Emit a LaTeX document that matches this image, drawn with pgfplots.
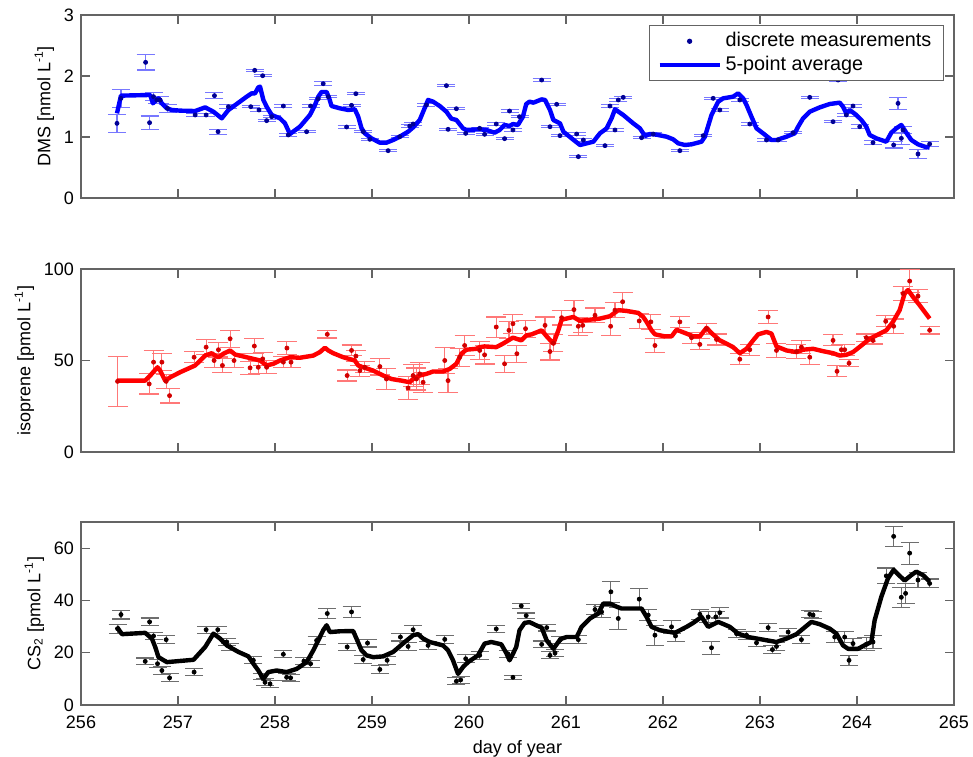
\documentclass[border=0pt]{standalone}
\usepackage{pgfplots}
\pgfplotsset{compat=1.18}
\usepackage{pgfplotstable}
\usepackage{fontspec}
\setmainfont{Liberation Sans}

\definecolor{axgray}{RGB}{100,100,100}
\definecolor{ebblue}{RGB}{120,120,255}
\definecolor{ebred}{RGB}{255,120,120}
\definecolor{ebgray}{RGB}{110,110,110}
\definecolor{ptblue}{RGB}{0,0,150}
\definecolor{ptred}{RGB}{210,0,0}

\pgfplotstableread{
x y e
256.371 1.224 0.148
256.412 1.634 0.148
256.666 2.224 0.126
256.707 1.235 0.109
256.748 1.661 0.066
256.782 1.607 0.055
256.816 1.607 0.055
256.892 1.470 0.066
257.177 1.361 0.03
257.290 1.361 0.03
257.376 1.678 0.045
257.413 1.087 0.04
257.520 1.497 0.03
257.750 1.497 0.02
257.791 2.093 0.02
257.835 1.443 0.02
257.873 2.005 0.02
257.914 1.268 0.02
257.966 1.333 0.02
258.086 1.508 0.02
258.137 1.033 0.02
258.326 1.087 0.02
258.367 1.508 0.02
258.446 1.628 0.02
258.497 1.874 0.03
258.549 1.661 0.02
258.738 1.164 0.02
258.789 1.519 0.02
258.834 1.710 0.02
258.909 1.087 0.02
258.978 0.962 0.02
259.166 0.776 0.02
259.286 1.005 0.02
259.389 1.180 0.02
259.424 1.213 0.02
259.561 1.525 0.02
259.767 1.842 0.02
259.784 1.126 0.02
259.870 1.464 0.02
259.966 1.060 0.02
260.110 1.142 0.02
260.161 1.044 0.02
260.281 1.213 0.02
260.367 0.973 0.02
260.418 1.426 0.02
260.453 1.115 0.02
260.521 1.333 0.02
260.749 1.934 0.02
260.835 1.169 0.02
260.904 1.536 0.02
260.938 1.022 0.02
261.110 1.049 0.02
261.127 0.678 0.02
261.179 0.951 0.02
261.402 0.858 0.02
261.453 1.508 0.02
261.505 1.115 0.02
261.539 1.607 0.02
261.590 1.650 0.02
261.779 0.989 0.02
261.899 1.049 0.02
262.174 0.776 0.02
262.414 1.022 0.02
262.517 1.634 0.02
262.586 1.443 0.02
262.792 1.607 0.02
262.895 1.213 0.02
263.067 0.951 0.02
263.187 0.951 0.02
263.341 1.071 0.02
263.513 1.650 0.02
263.753 1.251 0.02
263.805 1.934 0.02
263.890 1.361 0.03
263.959 1.508 0.03
264.028 1.169 0.03
264.165 0.907 0.03
264.378 0.869 0.05
264.423 1.552 0.098
264.457 0.978 0.1
264.474 1.115 0.06
264.629 0.721 0.08
264.749 0.885 0.04
}\dmspts

\pgfplotstableread{
x y
256.371 1.388
256.412 1.678
256.714 1.689
256.741 1.552
256.775 1.607
256.799 1.634
256.834 1.552
256.885 1.470
256.937 1.443
257.022 1.432
257.177 1.426
257.280 1.486
257.365 1.415
257.451 1.306
257.520 1.443
257.605 1.541
257.708 1.661
257.760 1.716
257.794 1.716
257.828 1.814
257.846 1.825
257.880 1.607
257.914 1.497
257.966 1.361
258.051 1.306
258.103 1.224
258.154 1.049
258.257 1.169
258.360 1.361
258.412 1.525
258.446 1.661
258.480 1.738
258.532 1.738
258.559 1.634
258.583 1.508
258.669 1.470
258.755 1.443
258.823 1.454
258.858 1.333
258.892 1.142
258.926 1.060
258.995 0.978
259.081 0.907
259.149 0.907
259.218 0.951
259.286 1.005
259.372 1.087
259.424 1.158
259.492 1.279
259.578 1.607
259.630 1.579
259.698 1.508
259.767 1.415
259.818 1.301
259.870 1.279
259.938 1.142
259.973 1.115
260.110 1.126
260.178 1.115
260.264 1.071
260.316 1.115
260.367 1.197
260.418 1.180
260.453 1.213
260.504 1.197
260.556 1.333
260.590 1.541
260.624 1.579
260.664 1.563
260.749 1.617
260.784 1.607
260.835 1.443
260.870 1.279
260.938 1.224
260.973 1.087
261.058 0.978
261.144 0.869
261.213 0.896
261.282 0.923
261.350 1.060
261.419 1.142
261.470 1.306
261.505 1.454
261.590 1.361
261.693 1.224
261.762 1.142
261.814 1.016
261.865 1.049
261.934 1.038
262.037 1.005
262.105 0.962
262.157 0.896
262.226 0.869
262.294 0.880
262.397 0.923
262.432 1.005
262.500 1.361
262.569 1.579
262.620 1.634
262.723 1.661
262.775 1.716
262.826 1.634
262.861 1.525
262.912 1.333
262.964 1.142
263.032 1.060
263.118 0.951
263.170 0.951
263.273 1.005
263.358 1.060
263.393 1.169
263.444 1.306
263.513 1.415
263.616 1.486
263.719 1.541
263.822 1.563
263.856 1.497
263.890 1.388
263.925 1.443
263.993 1.361
264.045 1.279
264.096 1.169
264.131 1.033
264.199 0.978
264.302 0.923
264.354 1.071
264.405 1.142
264.457 1.197
264.508 1.071
264.560 0.951
264.629 0.880
264.697 0.842
264.749 0.825
}\dmsavg

\pgfplotstableread{
x y e
256.377 38.6 13.7
256.703 37.2 5.5
256.748 49.1 6.4
256.834 49.1 4.6
256.878 38.6 4.0
256.913 30.8 4.0
257.166 51.8 3.0
257.290 57.3 4.0
257.372 50.0 4.0
257.417 55.9 4.0
257.458 47.3 4.0
257.537 61.9 4.6
257.578 50.0 4.0
257.743 46.0 3.5
257.787 57.9 4.0
257.828 46.3 3.5
257.873 50.9 3.5
257.914 46.3 3.5
258.086 49.1 3.0
258.123 56.8 3.5
258.165 49.1 3.0
258.539 64.3 2.0
258.744 41.8 3.0
258.789 55.5 3.0
258.834 52.4 3.0
258.875 44.5 3.0
258.926 46.3 3.0
259.081 46.7 4.6
259.149 39.9 5.5
259.372 35.0 6.4
259.424 41.8 6.0
259.458 39.9 6.0
259.492 42.7 6.0
259.527 38.1 5.5
259.750 50.0 7.3
259.784 39.0 6.4
259.904 51.8 5.0
259.955 58.2 5.5
260.110 55.5 5.0
260.161 53.1 5.0
260.281 68.3 5.5
260.367 48.2 4.6
260.412 66.5 4.6
260.453 70.1 5.1
260.494 53.7 4.6
260.583 67.4 4.6
260.784 69.2 4.6
260.835 54.9 4.6
260.870 59.5 4.6
260.955 73.4 4.0
261.082 77.8 5.0
261.127 68.7 5.0
261.172 69.2 4.0
261.299 74.7 4.0
261.460 68.7 5.0
261.505 77.5 4.0
261.584 82.1 5.0
261.755 71.6 4.0
261.875 71.1 4.0
261.917 58.2 4.0
262.174 71.1 3.0
262.294 62.5 3.0
262.380 58.8 3.0
262.449 67.4 3.0
262.552 61.5 3.0
262.792 50.7 3.0
262.895 55.9 3.0
263.084 73.8 3.7
263.170 55.5 3.7
263.376 54.9 3.7
263.427 57.3 3.7
263.513 51.8 4.0
263.753 61.0 3.0
263.794 44.1 3.0
263.839 55.9 3.0
263.873 55.9 3.0
263.918 48.5 2.0
264.096 62.5 2.0
264.165 61.0 2.0
264.296 71.4 3.0
264.378 68.7 4.0
264.474 86.6 4.0
264.543 93.4 6.4
264.629 85.2 3.5
264.749 66.5 2.0
}\isopts

\pgfplotstableread{
x y
256.370 39.0
256.662 39.0
256.714 41.8
256.765 44.9
256.789 46.3
256.816 44.5
256.868 39.0
256.919 40.8
257.022 43.6
257.177 47.3
257.280 52.7
257.348 54.0
257.383 52.7
257.417 51.8
257.468 53.7
257.537 55.5
257.588 53.3
257.674 52.2
257.777 50.9
257.846 50.0
257.914 47.3
257.983 48.2
258.051 50.0
258.154 51.8
258.257 51.5
258.395 52.7
258.463 54.6
258.515 57.0
258.549 55.5
258.600 54.0
258.703 51.8
258.823 50.0
258.858 47.3
258.909 46.3
259.012 44.5
259.115 41.8
259.201 39.9
259.304 39.0
259.389 38.1
259.424 39.9
259.492 41.8
259.561 42.7
259.630 44.0
259.732 44.0
259.801 45.4
259.870 48.2
259.921 53.7
259.973 55.9
260.075 56.4
260.110 57.3
260.161 57.7
260.281 57.3
260.350 59.2
260.453 62.5
260.539 61.0
260.590 63.7
260.646 64.3
260.749 66.5
260.801 63.2
260.870 59.2
260.921 66.5
260.955 72.3
261.076 73.8
261.144 71.6
261.247 72.3
261.350 72.9
261.453 74.2
261.539 77.5
261.625 77.1
261.745 76.0
261.796 73.8
261.831 71.1
261.882 66.5
261.917 64.3
262.020 63.2
262.088 63.2
262.140 66.8
262.243 64.7
262.311 63.2
262.380 63.2
262.449 67.9
262.500 65.0
262.586 61.0
262.655 59.2
262.723 57.3
262.792 54.0
262.861 56.4
262.929 61.0
262.981 64.3
263.067 65.6
263.118 64.7
263.170 57.7
263.273 55.5
263.376 54.6
263.444 55.9
263.547 56.4
263.650 55.1
263.753 54.0
263.822 52.7
263.890 53.1
263.959 54.6
264.045 58.2
264.131 61.9
264.199 63.7
264.302 66.5
264.371 71.1
264.440 77.5
264.491 86.6
264.526 88.5
264.577 84.8
264.646 80.2
264.749 72.9
}\isoavg

\pgfplotstableread{
x y e
256.377 29.2 1.7
256.412 34.6 1.7
256.662 16.7 1.3
256.707 31.8 1.5
256.748 26.4 1.5
256.789 15.8 1.5
256.834 13.2 1.5
256.878 25.0 1.5
256.913 10.4 1.5
257.166 12.6 1.3
257.290 28.8 1.3
257.410 28.8 1.3
257.503 24.1 1.3
257.537 22.2 1.3
257.777 17.1 1.3
257.863 10.9 1.3
257.897 8.7 1.3
257.949 8.1 1.3
258.086 19.4 1.3
258.120 10.6 1.3
258.161 10.4 1.3
258.298 16.8 1.3
258.367 15.8 1.3
258.429 24.7 1.5
258.539 35.0 2.0
258.744 22.2 1.5
258.789 35.6 2.0
258.909 17.4 1.5
258.954 23.7 1.5
259.081 13.6 1.5
259.156 17.1 1.5
259.293 26.0 1.5
259.372 22.4 1.5
259.424 28.8 1.5
259.578 22.8 1.5
259.750 25.1 1.5
259.870 9.1 1.3
259.914 9.6 1.3
259.966 17.7 1.5
260.110 19.0 1.5
260.281 29.1 1.3
260.401 19.6 1.3
260.453 10.6 0.8
260.539 37.9 1.0
260.590 34.2 1.0
260.749 23.2 1.3
260.801 29.6 1.3
260.835 19.0 1.3
260.887 19.9 1.3
260.938 25.0 1.3
261.127 25.0 1.5
261.299 36.5 2.0
261.367 35.6 2.0
261.463 43.3 4.0
261.539 33.1 4.2
261.755 40.5 4.0
261.848 34.4 2.0
261.917 26.7 3.8
262.088 29.9 2.5
262.129 26.4 2.0
262.380 34.7 2.0
262.466 33.7 2.0
262.500 21.9 2.5
262.545 33.7 2.0
262.586 35.3 2.0
262.758 27.3 1.5
262.861 26.7 1.5
262.964 23.8 1.5
263.084 29.6 1.5
263.128 21.2 1.5
263.170 22.4 1.5
263.290 27.9 1.5
263.427 25.0 1.5
263.513 34.7 1.3
263.547 34.4 1.3
263.770 26.0 2.0
263.873 26.0 2.0
263.918 17.1 2.0
263.959 23.5 2.0
264.096 23.2 2.5
264.165 24.1 2.5
264.302 49.4 3.0
264.378 64.5 3.8
264.457 41.2 3.8
264.501 42.7 3.8
264.543 58.1 4.2
264.629 47.8 3.0
264.749 46.5 1.7
}\cspts

\pgfplotstableread{
x y
256.370 29.9
256.422 27.1
256.662 27.6
256.731 25.4
256.765 22.2
256.799 18.3
256.885 16.4
257.160 17.3
257.280 22.2
257.365 27.3
257.434 25.4
257.503 22.8
257.623 20.3
257.726 18.6
257.777 15.8
257.828 13.2
257.880 10.0
257.931 12.6
258.017 13.2
258.120 12.6
258.223 13.8
258.326 16.4
258.395 20.9
258.446 24.7
258.497 28.6
258.532 30.5
258.566 27.9
258.669 28.2
258.806 28.3
258.840 25.4
258.892 20.9
258.943 19.0
259.012 18.3
259.115 18.6
259.218 20.3
259.338 24.1
259.424 26.7
259.475 27.1
259.527 25.4
259.595 24.1
259.732 22.8
259.784 20.9
259.835 17.1
259.887 11.9
259.938 14.5
259.990 16.4
260.093 19.0
260.161 23.5
260.230 24.1
260.333 23.2
260.384 19.9
260.418 17.1
260.453 19.6
260.487 22.2
260.521 28.6
260.573 31.4
260.624 31.7
260.715 30.1
260.749 29.6
260.801 24.7
260.870 21.5
260.921 24.1
260.955 25.4
261.007 26.0
261.110 26.0
261.161 29.9
261.247 33.1
261.333 35.0
261.384 38.8
261.453 38.8
261.522 37.6
261.573 36.9
261.693 36.9
261.779 36.9
261.831 33.7
261.882 29.9
261.968 28.6
262.123 27.6
262.243 29.9
262.311 31.4
262.397 33.7
262.466 29.9
262.569 31.8
262.689 29.9
262.775 27.3
262.878 26.0
263.032 25.0
263.170 24.1
263.273 25.4
263.376 27.1
263.444 29.2
263.530 31.8
263.616 30.9
263.719 29.2
263.788 27.3
263.856 22.8
263.908 21.5
264.011 21.5
264.096 23.2
264.148 24.1
264.182 32.4
264.251 41.4
264.320 48.5
264.378 51.7
264.440 49.4
264.491 47.6
264.560 49.7
264.611 51.0
264.680 49.7
264.749 47.2
}\csavg

\pgfplotsset{
  panel/.style={
    width=436.5pt, height=91.5pt, scale only axis,
    xmin=256, xmax=265, xtick={256,257,...,265},
    tick align=inside, xtick pos=both, ytick pos=both,
    major tick length=4.5pt,
    axis line style={axgray, line width=0.6pt},
    every tick/.style={axgray, line width=0.6pt},
    every tick label/.append style={font=\fontsize{9}{11}\selectfont},
    label style={font=\fontsize{9}{11}\selectfont},
    /pgf/number format/assume math mode=true,
    ylabel style={yshift=-2pt},
    xticklabel style={yshift=-2pt},
    clip=false,
  },
  pts/.style n args={3}{only marks, mark=*, mark size=1pt, color=#1,
    mark options={draw=#1, fill=#1},
    error bars/.cd, y dir=both, y explicit,
    error mark=-,
    error bar style={color=#2, line width=0.55pt},
    error mark options={rotate=90, color=#2, mark size=#3, line width=0.55pt},
    /pgfplots/.cd},
}

\begin{document}
\begin{tikzpicture}
\useasboundingbox (0,0) rectangle (486.5pt,-378pt);

\begin{axis}[panel, at={(40.5pt,-7.5pt)}, anchor=north west,
  ymin=0, ymax=3, ytick={0,1,2,3}, xticklabels={},
  ylabel={DMS [nmol L\textsuperscript{-1}]},
  legend style={at={(1,1)}, anchor=north east, xshift=-5pt, yshift=-5pt,
    draw=axgray, line width=0.6pt, font=\fontsize{9.9}{12}\selectfont,
    inner xsep=4pt, inner ysep=1.5pt, row sep=-1pt},
  legend cell align=left]
\addplot[legend image code/.code={\fill[ptblue] (15pt,0pt) circle (1pt);},
  pts={ptblue}{ebblue}{4.5pt}]
  table[x=x, y=y, y error=e] {\dmspts};
\addlegendentry{discrete measurements}
\addplot[blue, line width=2.2pt, line join=round,
  legend image code/.code={\draw[blue, line width=2pt] (0pt,0pt) -- (30pt,0pt);}]
  table[x=x, y=y] {\dmsavg};
\addlegendentry{5-point average}
\end{axis}

\begin{axis}[panel, at={(40.5pt,-134.5pt)}, anchor=north west,
  ymin=0, ymax=100, ytick={0,50,100}, xticklabels={},
  ylabel={isoprene [pmol L\textsuperscript{-1}]}]
\addplot[pts={ptred}{ebred}{5pt}]
  table[x=x, y=y, y error=e] {\isopts};
\addplot[red, line width=2.2pt, line join=round] table[x=x, y=y] {\isoavg};
\end{axis}

\begin{axis}[panel, at={(40.5pt,-261pt)}, anchor=north west,
  ymin=0, ymax=70, ytick={0,20,40,60},
  ylabel={CS\textsubscript{2} [pmol L\textsuperscript{-1}]},
  xlabel={day of year}, xlabel style={yshift=1pt}]
\addplot[pts={black}{ebgray}{4.5pt}]
  table[x=x, y=y, y error=e] {\cspts};
\addplot[black, line width=2.2pt, line join=round] table[x=x, y=y] {\csavg};
\end{axis}
\end{tikzpicture}
\end{document}
